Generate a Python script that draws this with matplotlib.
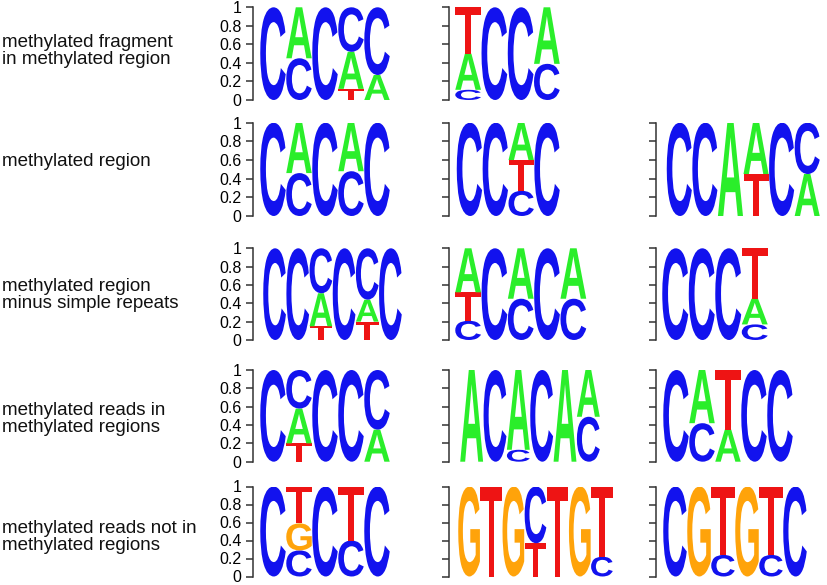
import matplotlib
matplotlib.use('Agg')
import matplotlib.pyplot as plt
from matplotlib.textpath import TextPath
from matplotlib.patches import PathPatch
from matplotlib.font_manager import FontProperties
import matplotlib.transforms as mtransforms

# ---------------- data ----------------
row_labels = [
    "methylated fragment\nin methylated region",
    "methylated region",
    "methylated region\nminus simple repeats",
    "methylated reads in\nmethylated regions",
    "methylated reads not in\nmethylated regions",
]
y_ticks = [0, 0.2, 0.4, 0.6, 0.8, 1]
y_tick_labels = ["0", "0.2", "0.4", "0.6", "0.8", "1"]

# each logo: list of positions; each position: list of (letter, probability)
frag_logo1 = [[("C", 1.0)], [("C", 0.45), ("A", 0.55)], [("C", 1.0)],
              [("T", 0.12), ("A", 0.40), ("C", 0.48)], [("A", 0.27), ("C", 0.73)]]
frag_logo2 = [[("C", 0.11), ("A", 0.39), ("T", 0.50)], [("C", 1.0)], [("C", 1.0)],
              [("C", 0.39), ("A", 0.61)]]

region_logo1 = [[("C", 1.0)], [("C", 0.46), ("A", 0.54)], [("C", 1.0)],
                [("C", 0.48), ("A", 0.52)], [("C", 1.0)]]
region_logo2 = [[("C", 1.0)], [("C", 1.0)], [("C", 0.27), ("T", 0.33), ("A", 0.40)],
                [("C", 1.0)]]
region_logo3 = [[("C", 1.0)], [("C", 1.0)], [("A", 1.0)], [("T", 0.45), ("A", 0.55)],
                [("C", 1.0)], [("A", 0.45), ("C", 0.55)]]

norep_logo1 = [[("C", 1.0)], [("C", 1.0)], [("T", 0.15), ("A", 0.36), ("C", 0.49)],
               [("C", 1.0)], [("T", 0.20), ("A", 0.24), ("C", 0.56)], [("C", 1.0)]]
norep_logo2 = [[("C", 0.21), ("T", 0.31), ("A", 0.48)], [("C", 1.0)],
               [("C", 0.45), ("A", 0.55)], [("C", 1.0)], [("C", 0.45), ("A", 0.55)]]
norep_logo3 = [[("C", 1.0)], [("C", 1.0)], [("C", 1.0)],
               [("C", 0.17), ("A", 0.28), ("T", 0.55)]]

readsin_logo1 = [[("C", 1.0)], [("T", 0.20), ("A", 0.38), ("C", 0.42)], [("C", 1.0)],
                 [("C", 1.0)], [("A", 0.35), ("C", 0.65)]]
readsin_logo2 = [[("A", 1.0)], [("C", 1.0)], [("C", 0.13), ("A", 0.87)], [("C", 1.0)],
                 [("A", 1.0)], [("C", 0.49), ("A", 0.51)]]
readsin_logo3 = [[("C", 1.0)], [("C", 0.42), ("A", 0.58)], [("A", 0.35), ("T", 0.65)],
                 [("C", 1.0)], [("C", 1.0)]]

readsout_logo1 = [[("C", 1.0)], [("C", 0.29), ("G", 0.30), ("T", 0.41)], [("C", 1.0)],
                  [("C", 0.40), ("T", 0.60)], [("C", 1.0)]]
readsout_logo2 = [[("G", 1.0)], [("T", 1.0)], [("G", 1.0)], [("T", 0.37), ("C", 0.63)],
                  [("T", 1.0)], [("G", 1.0)], [("C", 0.22), ("T", 0.78)]]
readsout_logo3 = [[("C", 1.0)], [("G", 1.0)], [("C", 0.24), ("T", 0.76)], [("G", 1.0)],
                  [("C", 0.24), ("T", 0.76)], [("C", 1.0)]]

logos = [
    [frag_logo1, frag_logo2, None],
    [region_logo1, region_logo2, region_logo3],
    [norep_logo1, norep_logo2, norep_logo3],
    [readsin_logo1, readsin_logo2, readsin_logo3],
    [readsout_logo1, readsout_logo2, readsout_logo3],
]

letter_colors = {"A": "#2aee2a", "C": "#1212ee", "G": "#ffa30a", "T": "#ee1414"}

# ---------------- layout (pixels) ----------------
W, H = 827, 585
fig = plt.figure(figsize=(W / 100, H / 100), dpi=100)
plt.rcParams['font.family'] = ['Liberation Sans', 'DejaVu Sans']

row_y = [(100, 7.3), (216, 122.7), (340, 248.3), (461.7, 370), (576.5, 486.5)]  # (y of 0, y of 1)
col_spine = [252.7, 448.5, 656]
letter_span = [
    [(260, 390), (455, 560), None],
    [(260, 390), (456.5, 560), (666.5, 820)],
    [(263, 402), (455, 586.5), (662, 768)],
    [(260, 390), (460, 600), (663, 793)],
    [(260, 390), (458, 613), (663, 807)],
]
label_y = [51, 162, 295, 419, 537]

fp = FontProperties(family='Liberation Sans', weight='bold')
glyphs = {}
for L in "ACGT":
    p = TextPath((0, 0), L, size=1, prop=fp)
    glyphs[L] = (p, p.get_extents())


def draw_letter(ax, L, x, y, w, h):
    p, bb = glyphs[L]
    t = (mtransforms.Affine2D()
         .translate(-bb.x0, -bb.y0)
         .scale(w / bb.width, h / bb.height)
         .translate(x, y))
    patch = PathPatch(t.transform_path(p), facecolor=letter_colors[L],
                      edgecolor='none', transform=ax.transData)
    ax.add_patch(patch)


for r in range(5):
    y0, y1 = row_y[r]
    for c in range(3):
        logo = logos[r][c]
        if logo is None:
            continue
        xs, xe = letter_span[r][c]
        sp = col_spine[c]
        n = len(logo)
        per_px = n / (xe - xs)
        left_lim = -(xs - sp) * per_px
        ax = fig.add_axes([sp / W, 1 - y0 / H, (xe + 2 - sp) / W, (y0 - y1) / H])
        ax.set_xlim(left_lim, n + 2 * per_px)
        ax.set_ylim(0, 1)
        for s in ['top', 'right', 'bottom']:
            ax.spines[s].set_visible(False)
        ax.spines['left'].set_linewidth(1.1)
        ax.spines['left'].set_color('#333333')
        ax.set_xticks([])
        ax.set_yticks(y_ticks)
        ax.tick_params(axis='y', length=5, width=1.1, color='#333333', pad=3)
        if c == 0:
            ax.set_yticklabels(y_tick_labels, fontsize=11.5)
        else:
            ax.set_yticklabels([])
        ax.patch.set_visible(False)
        for i, pos in enumerate(logo):
            base = 0.0
            for L, prob in sorted(pos, key=lambda t: t[1]):
                draw_letter(ax, L, i + 0.01, base, 0.98, prob)
                base += prob

for r in range(5):
    fig.text(2 / W, 1 - label_y[r] / H, row_labels[r], ha='left', va='center',
             fontsize=13.5, linespacing=0.95, color='#111111')

fig.savefig('out.png', dpi=100)
